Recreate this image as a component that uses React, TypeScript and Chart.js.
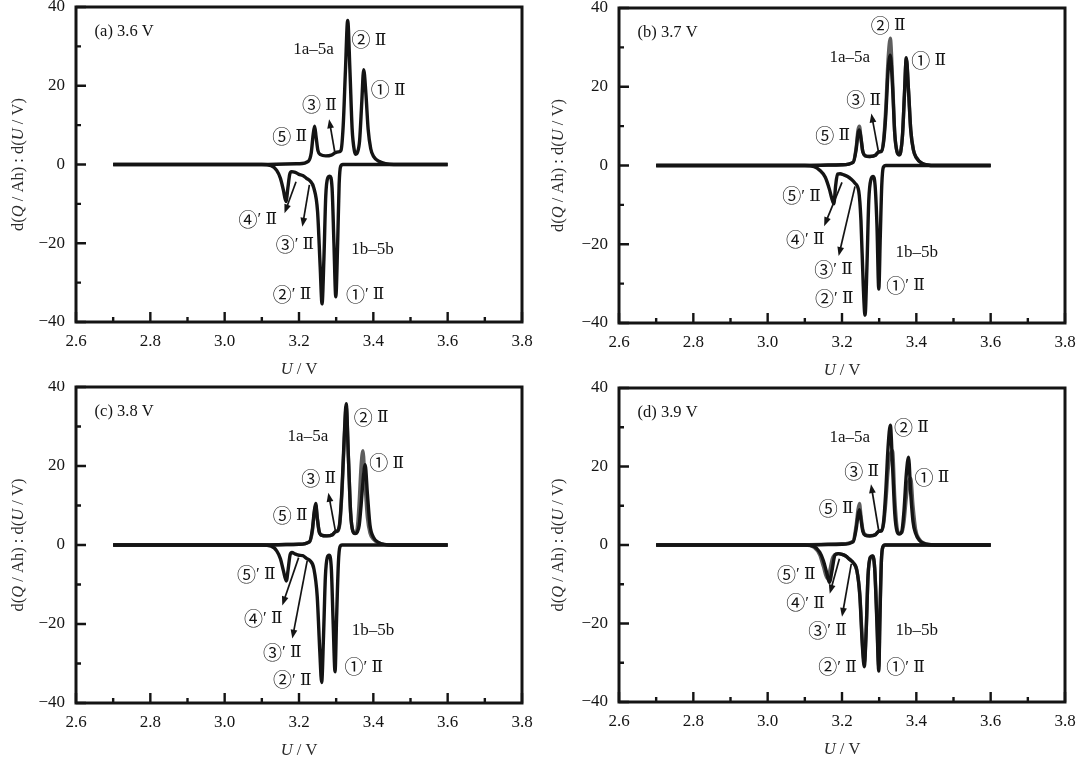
import { useEffect, useRef } from "react";
import { Chart, LineController, LineElement, PointElement, LinearScale } from "chart.js";

Chart.register(LineController, LineElement, PointElement, LinearScale);

// axis ticks
const uTicks = [2.6, 2.8, 3.0, 3.2, 3.4, 3.6, 3.8];
const uMinor = [2.7, 2.9, 3.1, 3.3, 3.5, 3.7];
const qTicks = [-40, -20, 0, 20, 40];
const qMinor = [-30, -10, 10, 30];

// (a) 3.6 V
const aChargeU = [2.70, 3.10, 3.20, 3.225, 3.233, 3.238, 3.242, 3.246, 3.251, 3.258, 3.272, 3.287, 3.298, 3.306, 3.313, 3.319, 3.325, 3.331, 3.337, 3.343, 3.349, 3.353, 3.357, 3.363, 3.369, 3.374, 3.380, 3.386, 3.393, 3.401, 3.415, 3.455, 3.600];
const aChargeQ = [0, 0, 0.2, 0.8, 3.0, 7.5, 9.7, 7.0, 3.5, 2.5, 2.2, 2.4, 3.0, 3.2, 3.6, 10, 24, 36.6, 24, 9, 3.5, 2.6, 3.0, 6, 16, 24.1, 18, 9, 4, 2, 0.8, 0, 0];
const aDisU = [2.70, 3.10, 3.125, 3.140, 3.150, 3.158, 3.165, 3.170, 3.175, 3.180, 3.190, 3.200, 3.210, 3.220, 3.230, 3.240, 3.250, 3.257, 3.262, 3.267, 3.272, 3.277, 3.283, 3.289, 3.294, 3.299, 3.304, 3.308, 3.312, 3.318, 3.600];
const aDisQ = [0, 0, -0.3, -1.5, -3.5, -6.5, -9.4, -6, -2.5, -1.8, -2.0, -2.5, -2.8, -3.5, -4.2, -6, -12, -26, -35.4, -24, -8, -3.5, -3, -6, -20, -33.6, -20, -5, -0.5, 0, 0];

// (b) 3.7 V
const bChargeU = [2.70, 3.10, 3.20, 3.230, 3.238, 3.243, 3.247, 3.251, 3.256, 3.262, 3.275, 3.290, 3.299, 3.306, 3.312, 3.318, 3.324, 3.330, 3.336, 3.342, 3.348, 3.354, 3.358, 3.363, 3.368, 3.373, 3.379, 3.385, 3.392, 3.400, 3.415, 3.450, 3.600];
const bChargeQ = [0, 0, 0.2, 0.8, 4, 8, 9.0, 7.0, 3.5, 2.5, 2.3, 2.6, 3.5, 3.6, 6, 13, 24, 28, 20, 8, 3.5, 2.7, 3.5, 8, 18, 27.4, 19, 9, 4, 2, 0.6, 0, 0];
const bChargeQ2 = [0, 0, 0.2, 0.8, 4.5, 9, 10.0, 7.0, 3.5, 2.5, 2.3, 2.6, 3.4, 3.6, 6.5, 15, 27, 32.3, 22, 8, 3.5, 2.7, 3.5, 8, 18, 27, 19, 9, 4, 2, 0.6, 0, 0];
const bDisU = [2.70, 3.10, 3.125, 3.140, 3.155, 3.166, 3.173, 3.178, 3.183, 3.188, 3.195, 3.205, 3.215, 3.225, 3.235, 3.245, 3.251, 3.257, 3.262, 3.267, 3.272, 3.278, 3.284, 3.289, 3.294, 3.299, 3.303, 3.307, 3.311, 3.318, 3.600];
const bDisQ = [0, 0, -0.3, -1.2, -3, -6, -8.5, -9.7, -5, -2.2, -2.1, -2.4, -2.8, -3.5, -4.5, -6.5, -14, -30, -38, -26, -9, -3.5, -2.8, -5, -15, -31.4, -18, -5, -0.5, 0, 0];

// (c) 3.8 V
const cChargeU = [2.70, 3.10, 3.20, 3.228, 3.236, 3.241, 3.245, 3.249, 3.254, 3.260, 3.275, 3.290, 3.298, 3.304, 3.310, 3.316, 3.322, 3.327, 3.333, 3.339, 3.345, 3.351, 3.357, 3.362, 3.367, 3.372, 3.378, 3.384, 3.391, 3.400, 3.415, 3.450, 3.600];
const cChargeQ = [0, 0, 0.2, 0.8, 4, 8.5, 10.5, 7, 3.5, 2.5, 2.3, 2.6, 3.4, 3.6, 6, 15, 28, 35.8, 22, 8, 3.5, 2.9, 3.3, 5, 10, 16, 20.3, 13, 5, 2, 0.6, 0, 0];
const cChargeQ2 = [0, 0, 0.2, 0.8, 3.5, 8, 10, 7, 3.5, 2.5, 2.3, 2.6, 3.3, 3.5, 5.5, 14, 27, 35, 22, 8, 3.5, 3, 4.5, 11, 20, 23.9, 15, 7, 3, 1.5, 0.5, 0, 0];
const cDisU = [2.70, 3.10, 3.125, 3.140, 3.150, 3.158, 3.166, 3.171, 3.176, 3.181, 3.190, 3.200, 3.210, 3.220, 3.230, 3.240, 3.249, 3.256, 3.261, 3.266, 3.271, 3.276, 3.281, 3.287, 3.292, 3.297, 3.301, 3.306, 3.310, 3.316, 3.600];
const cDisQ = [0, 0, -0.3, -1.5, -3.5, -6.5, -9.1, -6, -2.5, -1.9, -2.3, -2.6, -2.7, -3.4, -4.0, -6, -13, -27, -34.8, -23, -8, -3.2, -2.6, -6, -20, -32.1, -19, -4.5, -0.5, 0, 0];

// (d) 3.9 V
const dChargeU = [2.70, 2.95, 3.10, 3.20, 3.230, 3.238, 3.243, 3.247, 3.251, 3.256, 3.262, 3.275, 3.290, 3.299, 3.306, 3.312, 3.318, 3.324, 3.330, 3.336, 3.342, 3.348, 3.354, 3.361, 3.367, 3.373, 3.379, 3.385, 3.391, 3.398, 3.408, 3.420, 3.450, 3.600];
const dChargeQ = [0, 0, 0, 0.2, 0.8, 4, 7.5, 9, 6.5, 3.5, 2.5, 2.3, 2.6, 3.5, 3.6, 6, 14, 25, 30.5, 20, 8, 3.5, 2.8, 3.5, 9, 18, 22.4, 13, 6, 3, 1.2, 0.4, 0, 0];
const dChargeQ2 = [null, 0, 0.1, 0.3, 1, 5, 9, 10.6, 7.5, 4, 2.7, 2.4, 2.7, 3.5, 3.7, 5.5, 11, 19, 23, 24, 12, 4.5, 3, 3.2, 6, 12, 16, 17, 10, 4, 1.5, 0.5, 0, 0];
const dDisU = [2.70, 3.10, 3.125, 3.140, 3.150, 3.160, 3.166, 3.174, 3.180, 3.185, 3.190, 3.200, 3.210, 3.220, 3.230, 3.240, 3.248, 3.255, 3.260, 3.265, 3.270, 3.276, 3.282, 3.288, 3.294, 3.299, 3.302, 3.306, 3.310, 3.316, 3.600];
const dDisQ = [0, 0, -0.4, -1.8, -4, -7.5, -9.5, -6, -2.8, -2.3, -2.2, -2.4, -2.8, -3.6, -4.5, -6.5, -13, -26, -31, -22, -8, -3.2, -2.8, -6, -20, -32.1, -19, -4, -0.5, 0, 0];
const dDisQ2 = [0, 0, -0.6, -2.5, -5.5, -8.5, -7, -3.5, -2.5, -2.3, -2.2, -2.4, -2.8, -3.6, -4.5, -6.5, -12.5, -25, -30, -22, -8, -3.2, -2.8, -6, -19, -31, -18, -4, -0.5, 0, 0];

// peak labels: [text, U, Q]
const notesA: [string, number, number][] = [
  ["1a–5a", 3.239, 29.1], ["② Ⅱ", 3.388, 31.6], ["① Ⅱ", 3.44, 18.9], ["③ Ⅱ", 3.255, 15.1],
  ["⑤ Ⅱ", 3.175, 7.1], ["④′ Ⅱ", 3.089, -14.1], ["③′ Ⅱ", 3.189, -20.4], ["1b–5b", 3.398, -21.7],
  ["②′ Ⅱ", 3.181, -33.1], ["①′ Ⅱ", 3.378, -33.1]
];
const notesB: [string, number, number][] = [
  ["② Ⅱ", 3.324, 35.5], ["1a–5a", 3.221, 27.5], ["① Ⅱ", 3.433, 26.7], ["③ Ⅱ", 3.258, 16.6],
  ["⑤ Ⅱ", 3.175, 7.5], ["⑤′ Ⅱ", 3.091, -7.8], ["④′ Ⅱ", 3.101, -18.8], ["1b–5b", 3.401, -22.1],
  ["③′ Ⅱ", 3.177, -26.5], ["①′ Ⅱ", 3.371, -30.5], ["②′ Ⅱ", 3.179, -33.9]
];
const notesC: [string, number, number][] = [
  ["② Ⅱ", 3.394, 32.3], ["1a–5a", 3.224, 27.4], ["① Ⅱ", 3.436, 20.7], ["③ Ⅱ", 3.253, 16.8],
  ["⑤ Ⅱ", 3.176, 7.5], ["⑤′ Ⅱ", 3.085, -7.6], ["④′ Ⅱ", 3.104, -18.7], ["1b–5b", 3.399, -21.6],
  ["③′ Ⅱ", 3.155, -27.2], ["①′ Ⅱ", 3.374, -30.9], ["②′ Ⅱ", 3.182, -34.2]
];
const notesD: [string, number, number][] = [
  ["② Ⅱ", 3.387, 29.9], ["1a–5a", 3.221, 27.5], ["① Ⅱ", 3.442, 17.2], ["③ Ⅱ", 3.253, 18.7],
  ["⑤ Ⅱ", 3.184, 9.3], ["⑤′ Ⅱ", 3.077, -7.5], ["④′ Ⅱ", 3.102, -14.8], ["③′ Ⅱ", 3.161, -21.9],
  ["1b–5b", 3.401, -21.9], ["②′ Ⅱ", 3.188, -31.1], ["①′ Ⅱ", 3.371, -31.1]
];

// arrows: [U from, Q from, U to, Q to]
const arrowsA = [[3.296, 3.3, 3.281, 11.5], [3.192, -4.4, 3.161, -12.4], [3.228, -5.2, 3.209, -15.8]];
const arrowsB = [[3.299, 3.0, 3.279, 13.2], [3.200, -4.3, 3.152, -15.4], [3.235, -5.3, 3.191, -23.0]];
const arrowsC = [[3.298, 3.5, 3.279, 13.2], [3.199, -3.2, 3.155, -15.3], [3.222, -4.0, 3.182, -23.7]];
const arrowsD = [[3.299, 3.5, 3.278, 15.5], [3.193, -3.5, 3.167, -12.4], [3.225, -4.8, 3.200, -18.3]];

const SERIF = '"Liberation Serif", "DejaVu Serif", "Noto Sans CJK SC", serif';
const CIRCLED = '"Noto Sans CJK SC", "DejaVu Sans", sans-serif';
const INK = "#141414";
const GREY = "#5e5e5e";

type Curve = { u: number[]; q: (number | null)[]; color: string };
type Panel = {
  title: string;
  curves: Curve[];
  notes: [string, number, number][];
  arrows: number[][];
  left: number; top: number; width: number; height: number;
  padTop: number; padRight: number; axisW: number; axisH: number;
};

const panels: Panel[] = [
  {
    title: "(a) 3.6 V",
    curves: [
      { u: aChargeU, q: aChargeQ, color: INK },
      { u: aDisU, q: aDisQ, color: INK }
    ],
    notes: notesA, arrows: arrowsA,
    left: 0, top: 0, width: 540, height: 381, padTop: 7, padRight: 18, axisW: 76, axisH: 59
  },
  {
    title: "(b) 3.7 V",
    curves: [
      { u: bChargeU, q: bChargeQ, color: INK },
      { u: bDisU, q: bDisQ, color: INK },
      { u: bChargeU, q: bChargeQ2, color: GREY }
    ],
    notes: notesB, arrows: arrowsB,
    left: 540, top: 0, width: 540, height: 381, padTop: 8, padRight: 15, axisW: 79, axisH: 58
  },
  {
    title: "(c) 3.8 V",
    curves: [
      { u: cChargeU, q: cChargeQ, color: INK },
      { u: cDisU, q: cDisQ, color: INK },
      { u: cChargeU, q: cChargeQ2, color: GREY }
    ],
    notes: notesC, arrows: arrowsC,
    left: 0, top: 381, width: 540, height: 382, padTop: 6, padRight: 18, axisW: 76, axisH: 60
  },
  {
    title: "(d) 3.9 V",
    curves: [
      { u: dChargeU, q: dChargeQ, color: INK },
      { u: dDisU, q: dDisQ, color: INK },
      { u: dChargeU, q: dChargeQ2, color: GREY },
      { u: dDisU, q: dDisQ2, color: GREY }
    ],
    notes: notesD, arrows: arrowsD,
    left: 540, top: 381, width: 540, height: 382, padTop: 7, padRight: 15, axisW: 79, axisH: 61
  }
];

// draws text made of pieces with their own fonts, centred on (x, y)
function drawPieces(ctx: CanvasRenderingContext2D, parts: [string, string][], x: number, y: number) {
  const widths = parts.map(([t, f]) => {
    ctx.font = f;
    return ctx.measureText(t).width;
  });
  let cx = x - widths.reduce((s, w) => s + w, 0) / 2;
  ctx.textAlign = "left";
  ctx.textBaseline = "middle";
  parts.forEach(([t, f], i) => {
    ctx.font = f;
    ctx.fillText(t, cx, y);
    cx += widths[i];
  });
}

function rich(parts: [string, boolean][], size: number): [string, string][] {
  return parts.map(([t, it]) => [t, `${it ? "italic " : ""}${size}px ${SERIF}`]);
}

function noteParts(text: string): [string, string][] {
  return Array.from(text).map((ch) => {
    const code = ch.codePointAt(0) ?? 0;
    const circled = code >= 0x2460 && code <= 0x2473;
    return [ch, circled ? `19px ${CIRCLED}` : `17px ${SERIF}`];
  });
}

function drawArrow(ctx: CanvasRenderingContext2D, x1: number, y1: number, x2: number, y2: number) {
  const ang = Math.atan2(y2 - y1, x2 - x1);
  const len = 9, half = 3.4;
  const c = Math.cos(ang), s = Math.sin(ang);
  ctx.beginPath();
  ctx.moveTo(x1, y1);
  ctx.lineTo(x2 - c * len * 0.6, y2 - s * len * 0.6);
  ctx.stroke();
  ctx.beginPath();
  ctx.moveTo(x2, y2);
  ctx.lineTo(x2 - c * len + s * half, y2 - s * len - c * half);
  ctx.lineTo(x2 - c * len - s * half, y2 - s * len + c * half);
  ctx.closePath();
  ctx.fill();
}

function makeOverlay(panel: Panel) {
  return {
    id: "overlay",
    afterDraw(chart: Chart) {
      const { ctx, chartArea: a } = chart;
      const xs = chart.scales.x;
      const ys = chart.scales.y;
      ctx.save();
      ctx.strokeStyle = INK;
      ctx.fillStyle = INK;

      // inner ticks
      ctx.lineWidth = 2.4;
      ctx.beginPath();
      uTicks.forEach((v) => {
        const px = xs.getPixelForValue(v);
        ctx.moveTo(px, a.bottom);
        ctx.lineTo(px, a.bottom - 10);
      });
      uMinor.forEach((v) => {
        const px = xs.getPixelForValue(v);
        ctx.moveTo(px, a.bottom);
        ctx.lineTo(px, a.bottom - 5);
      });
      qTicks.forEach((v) => {
        const py = ys.getPixelForValue(v);
        ctx.moveTo(a.left, py);
        ctx.lineTo(a.left + 10, py);
      });
      qMinor.forEach((v) => {
        const py = ys.getPixelForValue(v);
        ctx.moveTo(a.left, py);
        ctx.lineTo(a.left + 5, py);
      });
      ctx.stroke();

      // frame
      ctx.lineWidth = 3;
      ctx.strokeRect(a.left, a.top, a.right - a.left, a.bottom - a.top);

      // panel title
      ctx.font = `16.5px ${SERIF}`;
      ctx.textAlign = "left";
      ctx.textBaseline = "middle";
      ctx.fillText(panel.title, xs.getPixelForValue(2.65), ys.getPixelForValue(33.7));

      // peak labels
      panel.notes.forEach(([t, u, q]) => {
        drawPieces(ctx, noteParts(t), xs.getPixelForValue(u), ys.getPixelForValue(q));
      });

      // arrows
      ctx.lineWidth = 1.7;
      panel.arrows.forEach(([u1, q1, u2, q2]) => {
        drawArrow(ctx, xs.getPixelForValue(u1), ys.getPixelForValue(q1), xs.getPixelForValue(u2), ys.getPixelForValue(q2));
      });

      // axis titles
      ctx.fillStyle = "#2a2a2a";
      drawPieces(ctx, rich([["U", true], [" / V", false]], 16.5), (a.left + a.right) / 2, a.bottom + 48);
      ctx.save();
      ctx.translate(19, (a.top + a.bottom) / 2);
      ctx.rotate(-Math.PI / 2);
      drawPieces(ctx, rich([["d(", false], ["Q", true], [" / Ah) : d(", false], ["U", true], [" / V)", false]], 16.5), 0, 0);
      ctx.restore();

      ctx.restore();
    }
  };
}

function PanelChart({ panel }: { panel: Panel }) {
  const canvasRef = useRef<HTMLCanvasElement | null>(null);

  useEffect(() => {
    const canvas = canvasRef.current;
    if (!canvas) return;

    const tickFont = { family: SERIF, size: 17 };

    const chart = new Chart(canvas, {
      type: "line",
      data: {
        datasets: panel.curves.map((c) => ({
          data: c.u.map((u, i) => ({ x: u, y: c.q[i] })),
          borderColor: c.color,
          borderWidth: 3.4,
          pointRadius: 0,
          fill: false,
          cubicInterpolationMode: "monotone" as const,
          spanGaps: false
        }))
      },
      options: {
        animation: false,
        responsive: true,
        maintainAspectRatio: false,
        events: [],
        layout: { padding: { top: panel.padTop, right: panel.padRight, left: 0, bottom: 0 } },
        scales: {
          x: {
            type: "linear",
            min: 2.6,
            max: 3.8,
            grid: { display: false, drawTicks: false },
            border: { display: false },
            afterBuildTicks: (s: any) => {
              s.ticks = uTicks.map((v) => ({ value: v }));
            },
            afterFit: (s: any) => {
              s.height = panel.axisH;
              s.paddingLeft = 0;
              s.paddingRight = 0;
            },
            ticks: {
              padding: 9,
              color: INK,
              font: tickFont,
              maxRotation: 0,
              autoSkip: false,
              callback: (v: any) => Number(v).toFixed(1)
            }
          },
          y: {
            type: "linear",
            min: -40,
            max: 40,
            grid: { display: false, drawTicks: false },
            border: { display: false },
            afterBuildTicks: (s: any) => {
              s.ticks = qTicks.map((v) => ({ value: v }));
            },
            afterFit: (s: any) => {
              s.width = panel.axisW;
              s.paddingTop = 0;
              s.paddingBottom = 0;
            },
            ticks: {
              padding: 11,
              color: INK,
              font: tickFont,
              callback: (v: any) => String(v).replace("-", "−")
            }
          }
        }
      },
      plugins: [makeOverlay(panel)]
    });

    return () => chart.destroy();
  }, [panel]);

  return (
    <div style={{ position: "absolute", left: panel.left, top: panel.top, width: panel.width, height: panel.height }}>
      <canvas ref={canvasRef} />
    </div>
  );
}

export default function App() {
  return (
    <div style={{ position: "absolute", left: 0, top: 0, width: 1080, height: 763, background: "#fff", overflow: "hidden" }}>
      {panels.map((p) => (
        <PanelChart key={p.title} panel={p} />
      ))}
    </div>
  );
}
